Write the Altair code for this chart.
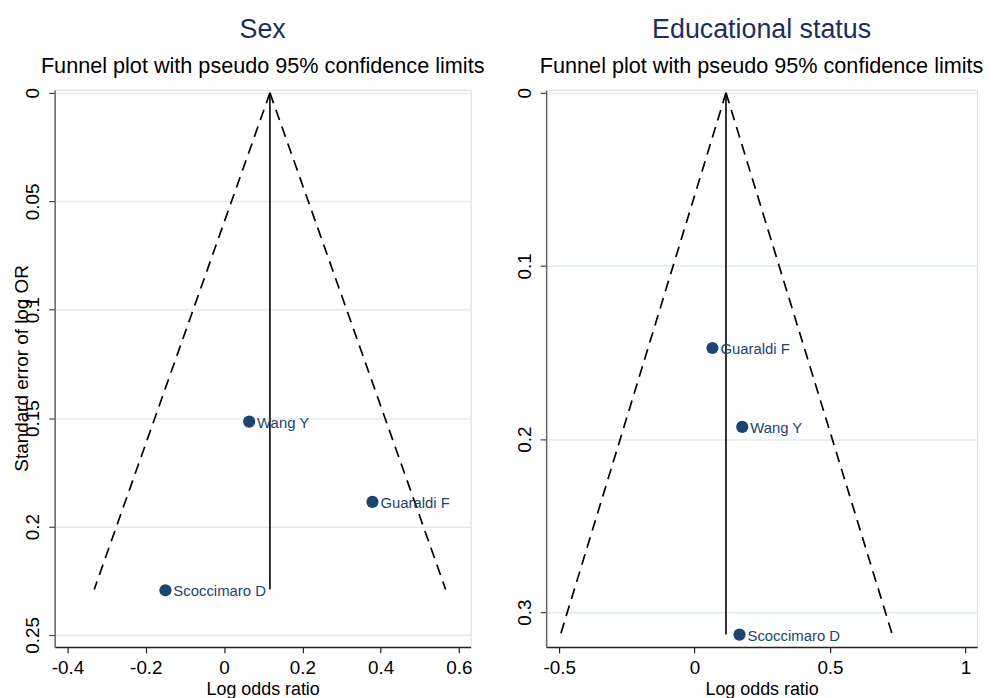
import altair as alt
import pandas as pd

# ---------------- data ----------------
sex_studies = ["Wang Y", "Guaraldi F", "Scoccimaro D"]
sex_logor = [0.064, 0.379, -0.150]
sex_se = [0.1516, 0.1886, 0.2294]
sex_pooled = 0.117
sex_max_se = 0.229
sex_limits = [-0.332, 0.566]

edu_studies = ["Guaraldi F", "Wang Y", "Scoccimaro D"]
edu_logor = [0.066, 0.176, 0.166]
edu_se = [0.1474, 0.193, 0.313]
edu_pooled = 0.116
edu_max_se = 0.313
edu_limits = [-0.495, 0.730]

sex_xticks = [-0.4, -0.2, 0, 0.2, 0.4, 0.6]
sex_yticks = [0, 0.05, 0.1, 0.15, 0.2, 0.25]
edu_xticks = [-0.5, 0, 0.5, 1]
edu_yticks = [0, 0.1, 0.2, 0.3]

FONT = "Liberation Sans"
NAVY = "#1b4471"
TITLE_NAVY = "#1f2d5a"


def panel(title, studies, lor, se, pooled, max_se, limits,
          xdom, xticks, ydom, yticks, width, height, ytitle):
    pts = pd.DataFrame({"study": studies, "lor": lor, "se": se})
    funnel = pd.DataFrame({
        "lor": [pooled, limits[0], pooled, limits[1]],
        "se": [0, max_se, 0, max_se],
        "side": ["lo", "lo", "hi", "hi"],
        "ord": [0, 1, 0, 1],
    })
    center = pd.DataFrame({"lor": [pooled], "se0": [0], "se1": [max_se]})

    xsc = alt.Scale(domain=xdom, nice=False, zero=False)
    ysc = alt.Scale(domain=ydom, nice=False, zero=False, reverse=True)

    xaxis = alt.Axis(values=xticks, labelExpr="'' + datum.value", grid=False,
                     title="Log odds ratio", titleFontSize=18, titlePadding=3,
                     labelFontSize=19, labelPadding=6, tickSize=6,
                     domainColor="#222222", tickColor="#222222",
                     domainWidth=1.5, tickWidth=1.2, labelColor="black",
                     titleColor="black", titleFontWeight="normal",
                     labelFont=FONT, titleFont=FONT)
    yargs = dict(values=yticks, labelExpr="'' + datum.value", grid=True,
                 gridColor="#dfecef", gridWidth=1.5,
                 labelAngle=270, labelAlign="center", labelBaseline="alphabetic",
                 labelFontSize=19, labelPadding=10, tickSize=6,
                 domainColor="#666666", tickColor="#444444",
                 domainWidth=1.5, tickWidth=1.2, labelColor="black",
                 labelFont=FONT)
    if ytitle:
        yaxis = alt.Axis(title=ytitle, titleFontSize=19, titleFont=FONT,
                         titleColor="black", titleFontWeight="normal",
                         titleAngle=270, titleX=-27, titleY=280,
                         titleAlign="center", titleBaseline="alphabetic",
                         **yargs)
    else:
        yaxis = alt.Axis(title=None, **yargs)

    base_pts = alt.Chart(pts)
    dots = base_pts.mark_circle(size=150, opacity=1, color=NAVY).encode(
        x=alt.X("lor:Q", scale=xsc, axis=xaxis),
        y=alt.Y("se:Q", scale=ysc, axis=yaxis),
    )
    labels = base_pts.mark_text(align="left", baseline="middle", dx=8, dy=1,
                                fontSize=15, font=FONT, color=NAVY).encode(
        x="lor:Q", y="se:Q", text="study:N"
    )
    lines = alt.Chart(funnel).mark_line(color="black", strokeWidth=1.7,
                                        strokeDash=[11, 7]).encode(
        x="lor:Q", y="se:Q", detail="side:N", order="ord:Q"
    )
    vline = alt.Chart(center).mark_rule(color="black", strokeWidth=1.6).encode(
        x="lor:Q", y="se0:Q", y2="se1:Q"
    )
    return alt.layer(dots, lines, vline, labels).properties(
        width=width, height=height,
        title=alt.TitleParams(
            text=title, subtitle="Funnel plot with pseudo 95% confidence limits",
            font=FONT, fontSize=27, fontWeight="normal", color=TITLE_NAVY,
            subtitleFont=FONT, subtitleFontSize=21.8, subtitleColor="black",
            subtitlePadding=12, anchor="middle", offset=9,
        ),
    )


left = panel("Sex", sex_studies, sex_logor, sex_se, sex_pooled, sex_max_se,
             sex_limits, [-0.433, 0.630], sex_xticks, [-0.00137, 0.2555],
             sex_yticks, 419, 561, "Standard error of log OR")
right = panel("Educational status", edu_studies, edu_logor, edu_se, edu_pooled,
              edu_max_se, edu_limits, [-0.548, 1.043], edu_xticks,
              [-0.0017, 0.3201], edu_yticks, 434, 561, None)

chart = alt.hconcat(left, right, spacing=29).properties(
    padding={"left": 4, "top": 5, "right": 0, "bottom": 0}
).configure_view(stroke=None).configure(background="white")

chart.save("out.html", embed_options={"renderer": "svg", "actions": False})
